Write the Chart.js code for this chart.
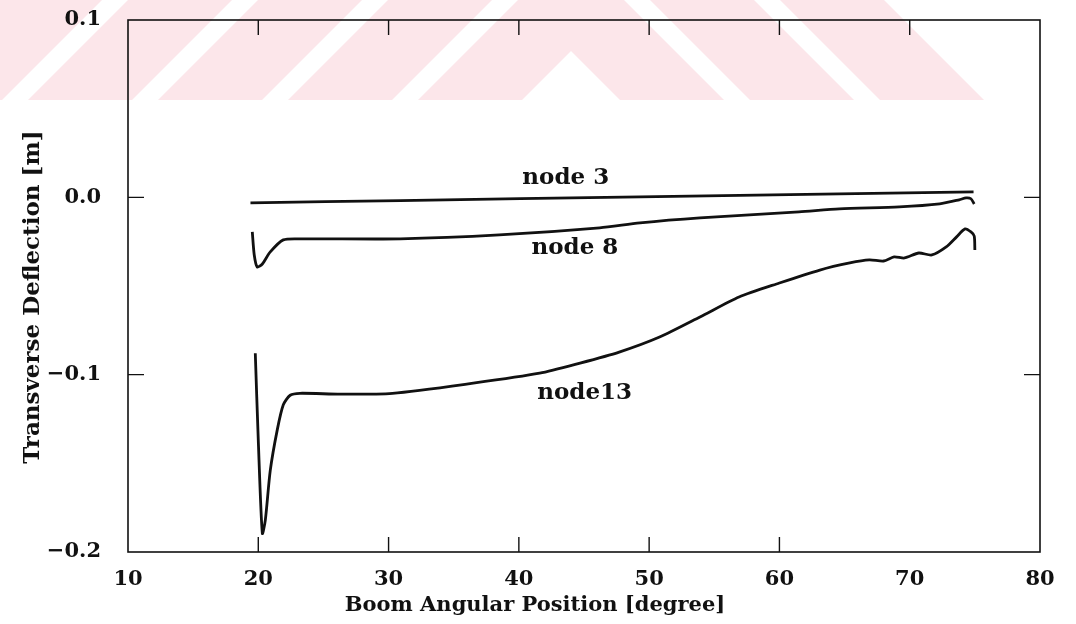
<!DOCTYPE html>
<html>
<head>
<meta charset="utf-8">
<script src="https://cdn.jsdelivr.net/npm/chart.js@4.4.1/dist/chart.umd.min.js"></script>
<style>
html, body { margin: 0; padding: 0; background: #fff; }
#wrap { width: 1076px; height: 624px; }
</style>
</head>
<body>
<div id="wrap"><canvas id="deflChart" width="1076" height="624"></canvas></div>
<script>
// ticks
const xTickValues = [10, 20, 30, 40, 50, 60, 70, 80];
const yTickValues = [-0.2, -0.1, 0.0, 0.1];

// node 3
const node3X = [19.4, 30.9, 49.3, 64.6, 74.9];
const node3Y = [-0.0031, -0.0018, 0.0003, 0.002, 0.0031];

// node 8
const node8X = [19.54, 19.69, 19.92, 20.31, 20.92, 21.92, 23.2, 30.9, 38.5, 46.2, 49.3, 53.9, 61.5, 64.6, 69.2, 72.3, 73.8, 74.33, 74.7, 74.95];
const node8Y = [-0.0195, -0.0325, -0.0393, -0.0376, -0.0308, -0.024, -0.0234, -0.0234, -0.0212, -0.0172, -0.0144, -0.0116, -0.0082, -0.0065, -0.0054, -0.0037, -0.0014, -0.0003, -0.0008, -0.0037];

// node 13
const node13X = [19.77, 20.0, 20.31, 20.54, 20.92, 21.46, 21.92, 22.45, 23.2, 26.3, 30.3, 36.5, 41.6, 44.7, 47.7, 50.8, 53.9, 56.9, 60.0, 63.1, 65.4, 66.9, 68.0, 68.8, 69.6, 70.7, 71.7, 72.8, 73.6, 74.25, 74.7, 74.95, 75.0];
const node13Y = [-0.0879, -0.137, -0.1895, -0.182, -0.154, -0.131, -0.117, -0.1116, -0.1105, -0.111, -0.1105, -0.1048, -0.0992, -0.0935, -0.0873, -0.0788, -0.0675, -0.0562, -0.0483, -0.041, -0.037, -0.0353, -0.0359, -0.0336, -0.0342, -0.0314, -0.0325, -0.028, -0.0223, -0.0178, -0.0195, -0.0218, -0.0297];

const seriesNames = ['node 3', 'node 8', 'node13'];

const FONT = "'DejaVu Serif', 'Liberation Serif', serif";
const INK = '#111';
const PLOT_TOP = 20;

function toPoints(xs, ys) {
    return xs.map((x, i) => ({ x: x, y: ys[i] }));
}

// where the curve names sit (data units)
const nameAnchors = [[43.6, 0.011], [44.3, -0.0285], [45.05, -0.1105]];

// layout keeps leaving extra room above the plot, pin the top edge
const pinTop = {
    id: 'pinTop',
    afterLayout(chart) {
        const ys = chart.scales.y;
        const area = chart.chartArea;
        area.top = PLOT_TOP;
        area.height = area.bottom - PLOT_TOP;
        ys.top = PLOT_TOP;
        ys.height = ys.bottom - PLOT_TOP;
        ys.configure();
    }
};

// faint red stripes from the scanned page
const watermark = {
    id: 'watermark',
    beforeDraw(chart) {
        const ctx = chart.ctx;
        ctx.save();
        ctx.beginPath();
        ctx.rect(0, 0, chart.width, 100);
        ctx.clip();
        ctx.fillStyle = '#fce6ea';
        for (const a of [-102, 28, 158, 288, 418]) {
            ctx.beginPath();
            ctx.moveTo(a, 100); ctx.lineTo(a + 104, 100);
            ctx.lineTo(a + 204, 0); ctx.lineTo(a + 100, 0);
            ctx.closePath(); ctx.fill();
        }
        for (const c of [520, 650, 780]) {
            ctx.beginPath();
            ctx.moveTo(c, 0); ctx.lineTo(c + 104, 0);
            ctx.lineTo(c + 204, 100); ctx.lineTo(c + 100, 100);
            ctx.closePath(); ctx.fill();
        }
        ctx.restore();
    }
};

// frame, inward ticks, titles and curve names
const decorations = {
    id: 'decorations',
    afterDraw(chart) {
        const ctx = chart.ctx;
        const a = chart.chartArea;
        const xs = chart.scales.x, ys = chart.scales.y;
        ctx.save();
        ctx.strokeStyle = INK;
        ctx.lineWidth = 1.6;
        ctx.strokeRect(a.left, a.top, a.right - a.left, a.bottom - a.top);

        ctx.lineWidth = 1.4;
        ctx.beginPath();
        [20, 30, 40, 50, 60].forEach(v => {
            const px = xs.getPixelForValue(v);
            ctx.moveTo(px, a.bottom); ctx.lineTo(px, a.bottom - 15);
        });
        [20, 30, 40, 50, 60, 70].forEach(v => {
            const px = xs.getPixelForValue(v);
            ctx.moveTo(px, a.top); ctx.lineTo(px, a.top + 15);
        });
        [0.0, -0.1].forEach(v => {
            const py = ys.getPixelForValue(v);
            ctx.moveTo(a.left, py); ctx.lineTo(a.left + 16, py);
            ctx.moveTo(a.right, py); ctx.lineTo(a.right - 16, py);
        });
        ctx.stroke();

        ctx.fillStyle = INK;
        ctx.textAlign = 'center';
        ctx.textBaseline = 'middle';
        ctx.font = 'bold 21px ' + FONT;
        ctx.fillText('Boom Angular Position [degree]', 535, 606);

        ctx.save();
        ctx.font = 'bold 23px ' + FONT;
        ctx.translate(33, 297);
        ctx.rotate(-Math.PI / 2);
        ctx.fillText('Transverse Deflection [m]', 0, 0);
        ctx.restore();

        ctx.font = 'bold 23px ' + FONT;
        seriesNames.forEach((name, i) => {
            const px = xs.getPixelForValue(nameAnchors[i][0]);
            const py = ys.getPixelForValue(nameAnchors[i][1]);
            ctx.fillText(name, px, py);
        });
        ctx.restore();
    }
};

const lineStyle = {
    showLine: true,
    borderColor: INK,
    borderWidth: 2.8,
    pointRadius: 0,
    tension: 0.25,
    fill: false
};

const ctx = document.getElementById('deflChart').getContext('2d');
const deflChart = new Chart(ctx, {
    type: 'scatter',
    data: {
        datasets: [
            Object.assign({ label: seriesNames[0], data: toPoints(node3X, node3Y) }, lineStyle),
            Object.assign({ label: seriesNames[1], data: toPoints(node8X, node8Y) }, lineStyle),
            Object.assign({ label: seriesNames[2], data: toPoints(node13X, node13Y) }, lineStyle)
        ]
    },
    options: {
        responsive: false,
        animation: false,
        devicePixelRatio: 1,
        layout: { padding: { top: PLOT_TOP, right: 36, left: 0, bottom: 0 } },
        plugins: {
            legend: { display: false },
            tooltip: { enabled: false }
        },
        scales: {
            x: {
                type: 'linear',
                min: 10,
                max: 80,
                afterBuildTicks: s => { s.ticks = xTickValues.map(v => ({ value: v })); },
                afterFit: s => { s.height = 72; },
                grid: { display: false, drawTicks: false },
                border: { display: false },
                ticks: {
                    color: INK,
                    padding: 15,
                    maxRotation: 0,
                    font: { family: FONT, size: 21, weight: 'bold' },
                    callback: v => String(v)
                }
            },
            y: {
                type: 'linear',
                min: -0.2,
                max: 0.1,
                afterBuildTicks: s => { s.ticks = yTickValues.map(v => ({ value: v })); },
                afterFit: s => { s.width = 128; },
                grid: { display: false, drawTicks: false },
                border: { display: false },
                ticks: {
                    color: INK,
                    padding: 27,
                    font: { family: FONT, size: 21, weight: 'bold' },
                    callback: v => (v < -1e-9 ? '\u2212' : '') + Math.abs(v).toFixed(1)
                }
            }
        }
    },
    plugins: [pinTop, watermark, decorations]
});
</script>
</body>
</html>
